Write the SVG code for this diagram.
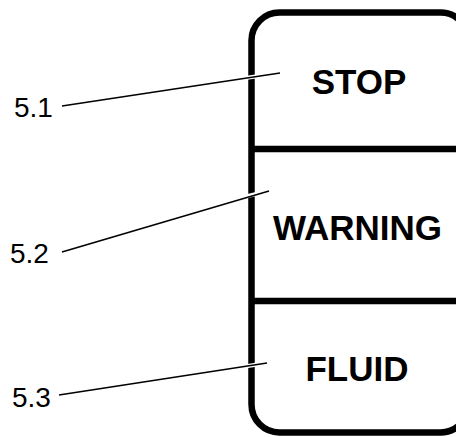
<svg xmlns="http://www.w3.org/2000/svg" width="456" height="437" viewBox="0 0 456 437">
<style>
.box{fill:#fff;stroke:#000;stroke-width:6.5}
.div{stroke:#000;stroke-width:6.5}
.lbl{font-family:"Liberation Sans",Arial,sans-serif;font-weight:bold;font-size:35px;text-anchor:middle;fill:#000}
.num{font-family:"Liberation Sans",Arial,sans-serif;font-size:28px;fill:#000}
.halo{stroke:#fff;stroke-width:4;fill:none}
.lead{stroke:#000;stroke-width:1.6;fill:none}
</style>
<rect width="456" height="437" fill="#fff"/>
<g id="panel">
<rect class="box" x="251.5" y="12.5" width="217" height="420" rx="28" ry="28"/>
<line class="div" x1="251.5" y1="149" x2="470" y2="149"/>
<line class="div" x1="251.5" y1="301" x2="470" y2="301"/>
</g>
<g id="stop"><text class="lbl" x="359" y="94">STOP</text></g>
<g id="warning"><text class="lbl" x="357.5" y="240">WARNING</text></g>
<g id="fluid"><text class="lbl" x="357" y="381">FLUID</text></g>
<g id="n51"><text class="num" x="14" y="117">5.1</text></g>
<g id="n52"><text class="num" x="10" y="263">5.2</text></g>
<g id="n53"><text class="num" x="12" y="407">5.3</text></g>
<g id="connectors">
<line class="halo" x1="200" y1="84.6" x2="280" y2="73"/>
<line class="lead" x1="62" y1="106" x2="280" y2="73"/>
<line class="halo" x1="200" y1="207.3" x2="269" y2="191"/>
<line class="lead" x1="62" y1="252" x2="269" y2="191"/>
<line class="halo" x1="200" y1="373.5" x2="267" y2="363"/>
<line class="lead" x1="59" y1="395" x2="267" y2="363"/>
</g>
</svg>
